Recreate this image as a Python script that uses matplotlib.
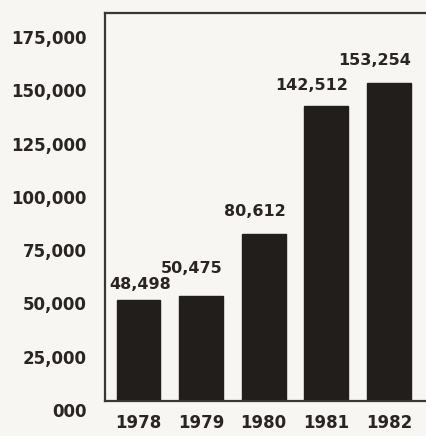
import matplotlib
matplotlib.use("Agg")
import matplotlib.pyplot as plt
import matplotlib.transforms as mtransforms

years = ["1978", "1979", "1980", "1981", "1982"]
values = [48498, 50475, 80612, 142512, 153254]
value_labels = ["48,498", "50,475", "80,612", "142,512", "153,254"]
y_ticks = [0, 25000, 50000, 75000, 100000, 125000, 150000, 175000]
y_tick_labels = ["000", "25,000", "50,000", "75,000", "100,000", "125,000", "150,000", "175,000"]

BG = "#f7f6f2"
BAR = "#221e1b"
TXT = "#2a2522"
FONT = ["DejaVu Sans"]

fig = plt.figure(figsize=(4.26, 4.36), dpi=100, facecolor=BG)
ax = fig.add_axes([105/426, 35/436, 1 - 105/426, (401 - 13)/436])
ax.set_facecolor(BG)

x = list(range(len(years)))
width = 0.70
ax.bar(x, values, width=width, color=BAR, edgecolor=BAR, zorder=2)

ax.set_xlim(-0.535, 4.593)
ax.set_ylim(0, 187200)

for s in ["left", "top", "bottom"]:
    ax.spines[s].set_color("#3a3632")
    ax.spines[s].set_linewidth(1.6)
ax.spines["right"].set_visible(False)

ax.set_xticks(x)
ax.set_xticklabels(years, fontfamily=FONT, fontweight="bold", fontsize=12, color=TXT)
ax.set_yticks(y_ticks)
ax.set_yticklabels(y_tick_labels, fontfamily=FONT, fontweight="bold", fontsize=12, color=TXT)
ax.tick_params(axis="x", length=0, pad=9)
ax.tick_params(axis="y", length=0, pad=13)

# nudge y tick labels to match the printed (slightly differently spaced) scale
for i, lab in enumerate(ax.get_yticklabels()):
    dy = -(9 - 1.47 * i) / 100.0
    lab.set_transform(lab.get_transform() + mtransforms.ScaledTranslation(0, dy, fig.dpi_scale_trans))

# label placement styles (alignment and offsets in points)
label_ha = ["left", "right", "right", "right", "right"]
label_dx = [-5, 0, 0, 0, 0]
label_dy = [8, 17, 13, 11, 13]
for xi, v, lab, ha, dx, dy in zip(x, values, value_labels, label_ha, label_dx, label_dy):
    xpos = xi - width / 2 if ha == "left" else xi + width / 2
    ax.annotate(lab, xy=(xpos, v), xytext=(dx, dy), textcoords="offset points",
                ha=ha, va="baseline", fontfamily=FONT, fontweight="bold",
                fontsize=11.5, color=TXT)

fig.savefig("out.png", dpi=100, facecolor=BG)
